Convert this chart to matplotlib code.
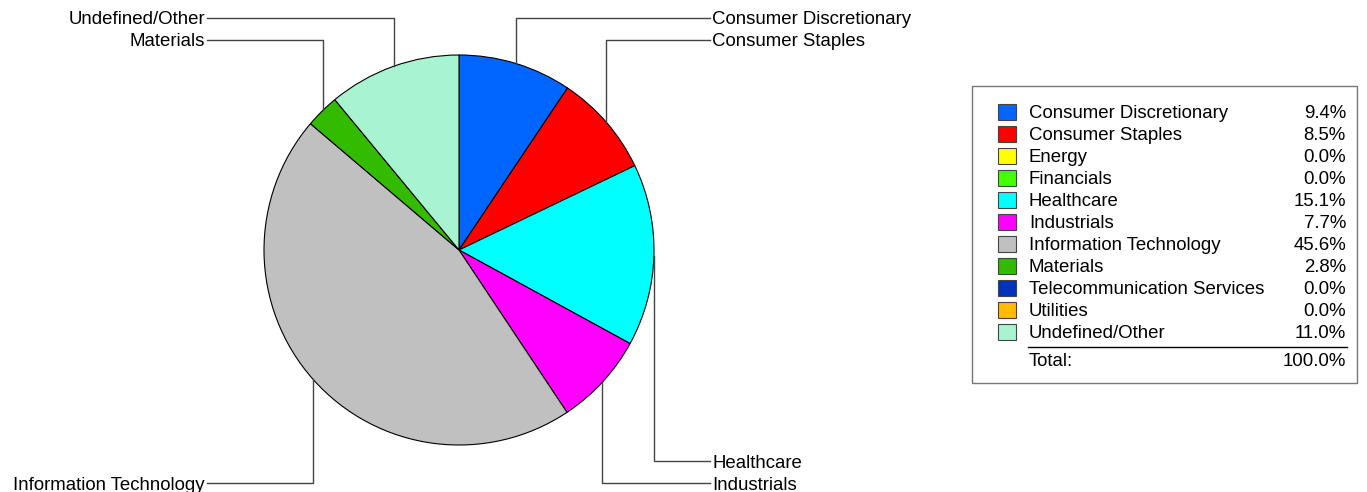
import numpy as np
import matplotlib.pyplot as plt
from matplotlib.patches import Rectangle

plt.rcParams['font.family'] = ['Liberation Sans', 'DejaVu Sans']

sectors = ['Consumer Discretionary', 'Consumer Staples', 'Energy', 'Financials',
           'Healthcare', 'Industrials', 'Information Technology', 'Materials',
           'Telecommunication Services', 'Utilities', 'Undefined/Other']
weights = [9.4, 8.5, 0.0, 0.0, 15.1, 7.7, 45.6, 2.8, 0.0, 0.0, 11.0]
colors = ['#0066ff', '#ff0000', '#ffff00', '#44ff00', '#00ffff', '#ff00ff',
          '#c0c0c0', '#33bb00', '#0033bb', '#ffbb00', '#a8f3d0']
total_label = '100.0%'

W, H = 1367, 492
fig = plt.figure(figsize=(W / 100, H / 100), dpi=100)
ax = fig.add_axes([0, 0, 1, 1])

# pie (pixel coords, y up)
cx, cy, r = 459, H - 250, 195
nz = [i for i, w in enumerate(weights) if w > 0]
ax.pie([weights[i] for i in nz], colors=[colors[i] for i in nz], startangle=90,
       counterclock=False, center=(cx, cy), radius=r, frame=True,
       wedgeprops=dict(edgecolor='black', linewidth=0.8))
ax.set_xlim(0, W)
ax.set_ylim(0, H)
ax.set_aspect('equal')
ax.axis('off')

# leader lines + labels
fs = 13.4
va = 'center_baseline'
cum = 0
groups = {}
for i in nz:
    mid = cum + weights[i] / 2
    cum += weights[i]
    ang = np.deg2rad(90 - mid * 3.6)
    x = cx + r * np.cos(ang)
    y = cy + r * np.sin(ang)
    key = (x > cx, y > cy)
    groups.setdefault(key, []).append((abs(x - cx), i, x, y))

for (right, top), items in groups.items():
    items.sort()
    for k, (_, i, x, y) in enumerate(items):
        if top:
            ly = H - (18 + 22 * k)
        else:
            ly = H - (483 - 22 * k)
        lx = 710 if right else 207
        ax.plot([x, x, lx], [y, ly, ly], color='#444444', lw=1)
        if right:
            ax.text(lx + 2, ly, sectors[i], ha='left', va=va, fontsize=fs)
        else:
            ax.text(lx - 2, ly, sectors[i], ha='right', va=va, fontsize=fs)

# legend box
ax.add_patch(Rectangle((972, H - 383), 385, 297, facecolor='white',
                       edgecolor='#777777', lw=1))
for k, (name, w, c) in enumerate(zip(sectors, weights, colors)):
    yc = H - (112 + 22 * k)
    ax.add_patch(Rectangle((998, yc - 8), 18, 16, facecolor=c,
                           edgecolor='#444444', lw=0.8))
    ax.text(1029, yc, name, ha='left', va=va, fontsize=fs)
    ax.text(1346, yc, '%.1f%%' % w, ha='right', va=va, fontsize=fs)
ax.plot([1028, 1347], [H - 347, H - 347], color='black', lw=1)
ax.text(1029, H - 360, 'Total:', ha='left', va=va, fontsize=fs)
ax.text(1346, H - 360, total_label, ha='right', va=va, fontsize=fs)

fig.savefig('out.png', dpi=100)
